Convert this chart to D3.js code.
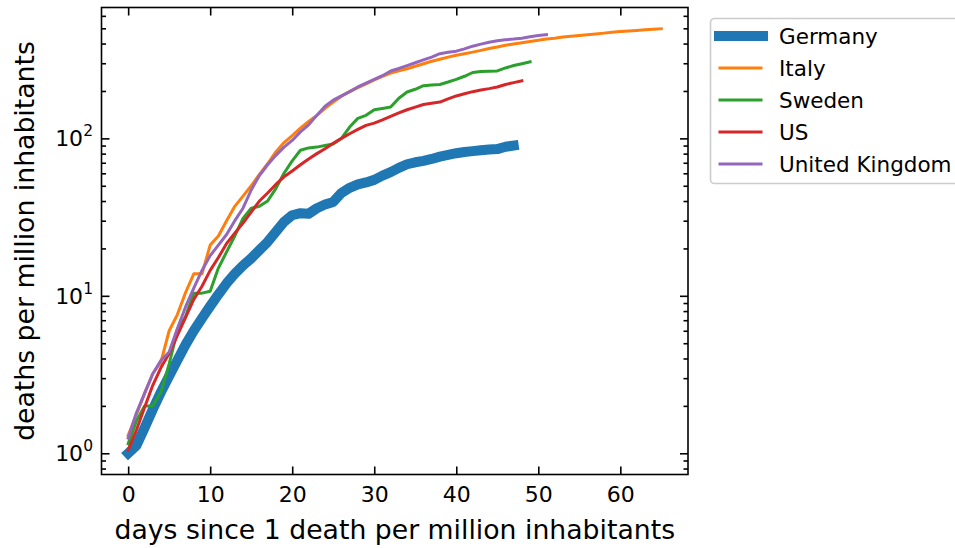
<!DOCTYPE html>
<html>
<head>
<meta charset="utf-8">
<script src="https://cdn.jsdelivr.net/npm/d3@7"></script>
<style>
  body { margin: 0; background: #fff; }
  svg { display: block; font-family: "DejaVu Sans", sans-serif; }
</style>
</head>
<body>
<div id="chart"></div>
<script>
// deaths per million inhabitants, one value per day since 1 death / million
var countries = ["Germany", "Italy", "Sweden", "US", "United Kingdom"];
var colors = ["#1f77b4", "#ff7f0e", "#2ca02c", "#d62728", "#9467bd"];

var germany = [1.0, 1.12, 1.45, 1.9, 2.45, 3.1, 3.9, 4.9, 6.0, 7.2,
  8.6, 10.2, 12.0, 13.8, 15.6, 17.3, 19.5, 22, 25.5, 29.5,
  32.5, 33.5, 33.2, 36, 38, 39.5, 45, 48.5, 51, 52.5,
  54.5, 58, 61, 65, 68.5, 70.5, 72, 74, 76.5, 78.5,
  80.5, 82, 83, 84, 85, 85.5, 88.5, 90];
var italy = [1.3, 1.75, 2.4, 3.2, 3.8, 6.0, 7.6, 10.5, 13.8, 13.8,
  21, 24, 30, 37, 43, 50, 59, 69, 82, 94,
  104, 116, 128, 140, 155, 170, 185, 198, 210, 222,
  235, 248, 260, 269, 277, 287, 298, 309, 318, 328,
  337, 345, 353, 362, 372, 380, 390, 398, 405, 412,
  420, 427, 432, 440, 445, 450, 455, 460, 466, 472,
  477, 481, 485, 489, 493, 497];
var sweden = [1.15, 1.6, 2.0, 2.0, 2.45, 3.7, 6.0, 7.4, 10.4, 10.4,
  10.7, 15, 19, 24, 31, 36, 37, 40, 48, 60,
  72, 84, 87, 88, 90, 92, 100, 118, 134, 140,
  152, 155, 158, 180, 197, 205, 216, 218, 220, 228,
  237, 248, 262, 266, 267, 268, 280, 290, 298, 306];
var us = [1.05, 1.4, 1.95, 2.7, 3.5, 4.3, 5.6, 7.3, 9.5, 11.5,
  14.5, 17.5, 21.5, 25, 29, 34, 40, 45, 51, 57,
  62, 68, 74, 80, 86, 93, 100, 107, 114, 121,
  125, 131, 138, 145, 152, 158, 164, 167, 170, 178,
  186, 192, 198, 203, 207, 212, 220, 226, 232];
var uk = [1.25, 1.8, 2.4, 3.2, 3.9, 4.4, 6.2, 8.5, 11.2, 14.5,
  18, 21, 24.5, 30, 36, 47, 58, 68, 78, 88,
  97, 110, 122, 140, 160, 175, 186, 198, 212, 224,
  237, 250, 268, 278, 290, 302, 315, 328, 345, 352,
  358, 370, 385, 397, 408, 417, 423, 427, 433, 442,
  450, 456];

var seriesValues = [germany, italy, sweden, us, uk];
var lineWidths = [10, 3, 3, 3, 3];

var xTicks = [0, 10, 20, 30, 40, 50, 60];
var yTicks = [1, 10, 100];

function init() {
    var w = 955;
    var h = 548;
    var left = 101.5, right = 688, top = 7.5, bottom = 474.5;
    var tickFont = 22, labelFont = 26.7, legendFont = 21.5;

    var svg = d3.select("#chart").append("svg")
        .attr("width", w)
        .attr("height", h);

    var series = countries.map(function(name, i) {
        return {
            name: name,
            color: colors[i],
            width: lineWidths[i],
            points: seriesValues[i].map(function(v, d) { return { day: d, value: v }; })
        };
    });

    // matplotlib style 5% margins
    var maxDay = d3.max(series, s => s.points.length - 1);
    var xPad = 0.05 * maxDay;
    var xScale = d3.scaleLinear()
        .domain([-xPad, maxDay + xPad])
        .range([left, right]);

    var allVals = [].concat.apply([], seriesValues);
    var lmin = Math.log10(d3.min(allVals)), lmax = Math.log10(d3.max(allVals));
    var lpad = 0.05 * (lmax - lmin);
    var yScale = d3.scaleLog()
        .domain([Math.pow(10, lmin - lpad), Math.pow(10, lmax + lpad)])
        .range([bottom, top]);

    var plot = svg.append("g");
    plot.append("clipPath").attr("id", "clip")
        .append("rect")
        .attr("x", left).attr("y", top)
        .attr("width", right - left).attr("height", bottom - top);

    var line = d3.line()
        .x(d => xScale(d.day))
        .y(d => yScale(d.value));

    plot.append("g").attr("clip-path", "url(#clip)")
        .selectAll("path")
        .data(series)
        .enter()
        .append("path")
        .attr("d", d => line(d.points))
        .attr("fill", "none")
        .attr("stroke", d => d.color)
        .attr("stroke-width", d => d.width)
        .attr("stroke-linecap", "square")
        .attr("stroke-linejoin", "round");

    // minor ticks for the log axis
    var minor = [];
    var dom = yScale.domain();
    for (var e = -1; e <= 3; e++) {
        for (var m = 2; m <= 9; m++) {
            var v = m * Math.pow(10, e);
            if (v >= dom[0] && v <= dom[1]) minor.push(v);
        }
    }

    var majLen = 8, minLen = 4.5;

    // axes with inward ticks on every side
    var xBottom = d3.axisBottom(xScale).tickValues(xTicks).tickSize(-majLen).tickSizeOuter(0);
    var xTop = d3.axisTop(xScale).tickValues(xTicks).tickSize(-majLen).tickFormat("").tickSizeOuter(0);
    var yLeft = d3.axisLeft(yScale).tickValues(yTicks).tickSize(-majLen).tickFormat("").tickSizeOuter(0);
    var yRight = d3.axisRight(yScale).tickValues(yTicks).tickSize(-majLen).tickFormat("").tickSizeOuter(0);
    var yLeftMinor = d3.axisLeft(yScale).tickValues(minor).tickSize(-minLen).tickFormat("").tickSizeOuter(0);
    var yRightMinor = d3.axisRight(yScale).tickValues(minor).tickSize(-minLen).tickFormat("").tickSizeOuter(0);

    var gx = svg.append("g").attr("transform", `translate(0,${bottom})`).call(xBottom);
    svg.append("g").attr("transform", `translate(0,${top})`).call(xTop);
    svg.append("g").attr("transform", `translate(${left},0)`).call(yLeft);
    svg.append("g").attr("transform", `translate(${right},0)`).call(yRight);
    svg.append("g").attr("transform", `translate(${left},0)`).call(yLeftMinor);
    svg.append("g").attr("transform", `translate(${right},0)`).call(yRightMinor);

    svg.selectAll(".domain").remove();
    svg.selectAll(".tick line").attr("stroke", "#000").attr("stroke-width", 1.6);

    gx.selectAll(".tick text")
        .attr("font-size", tickFont)
        .attr("font-family", "DejaVu Sans")
        .attr("fill", "#000")
        .attr("dy", null)
        .attr("y", 27.5);

    // y tick labels as 10^n
    yTicks.forEach(function(v) {
        var t = svg.append("text")
            .attr("x", 93)
            .attr("y", yScale(v) + 8)
            .attr("text-anchor", "end")
            .attr("font-size", tickFont)
            .attr("fill", "#000");
        t.append("tspan").text("10");
        t.append("tspan").attr("font-size", 15.5).attr("dy", -10).text(Math.round(Math.log10(v)));
    });

    // frame
    svg.append("rect")
        .attr("x", left).attr("y", top)
        .attr("width", right - left).attr("height", bottom - top)
        .attr("fill", "none")
        .attr("stroke", "#000")
        .attr("stroke-width", 1.6);

    svg.append("text")
        .attr("transform", `translate(${(left + right) / 2}, 539)`)
        .style("text-anchor", "middle")
        .attr("font-size", labelFont)
        .text("days since 1 death per million inhabitants");

    svg.append("text")
        .attr("transform", `translate(34, ${(top + bottom) / 2}) rotate(-90)`)
        .style("text-anchor", "middle")
        .attr("font-size", labelFont)
        .text("deaths per million inhabitants");

    // legend
    var lg = svg.append("g");
    lg.append("rect")
        .attr("x", 710.5).attr("y", 18.5)
        .attr("width", 260).attr("height", 165)
        .attr("rx", 4)
        .attr("fill", "#fff")
        .attr("fill-opacity", 0.8)
        .attr("stroke", "#cccccc")
        .attr("stroke-width", 1.6);

    var rowY = d3.scalePoint().domain(countries).range([36, 164]);
    var items = lg.selectAll(".item")
        .data(series)
        .enter()
        .append("g")
        .attr("transform", d => `translate(0, ${rowY(d.name)})`);
    items.append("line")
        .attr("x1", d => d.width > 5 ? 719 : 720)
        .attr("x2", d => d.width > 5 ? 763 : 761)
        .attr("stroke", d => d.color)
        .attr("stroke-width", d => d.width)
        .attr("stroke-linecap", "square");
    items.append("text")
        .attr("x", 779)
        .attr("y", 7.5)
        .attr("font-size", legendFont)
        .attr("fill", "#000")
        .text(d => d.name);
}

window.onload = init;
</script>
</body>
</html>
